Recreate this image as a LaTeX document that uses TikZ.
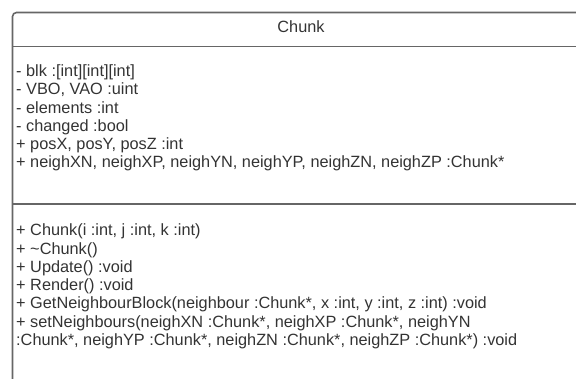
\documentclass[tikz,border=0pt]{standalone}
\usepackage{fontspec}
\setmainfont{Liberation Sans}
\usetikzlibrary{calc}

\definecolor{umlline}{HTML}{666666}
\definecolor{umltext}{HTML}{333333}

\begin{document}
\begin{tikzpicture}[
  x=1pt, y=-1pt,
  font=\fontsize{16.3}{18.3}\selectfont,
  frame/.style={draw=umlline, line width=1.6pt},
  member/.style={anchor=base west, align=left, inner sep=0pt, text=umltext},
  title/.style={anchor=base, inner sep=0pt, text=umltext}]

  \useasboundingbox (0,0) rectangle (576,379);
  \clip (0,0) rectangle (576,379);

  % Outer box of the class
  \draw[frame, rounded corners=4pt] (12.5,400) |- (592,12.5) -- (592,400);
  \draw[frame] (12.5,46.5) -- (592,46.5);
  \draw[frame] (12.5,204) -- (592,204);

  \node[title] (name) at (301,32.3) {Chunk};

  % Attributes (placed by the baseline of the last line)
  \node[member] (attrs) at (16,168) {%
    - blk :[int][int][int]\\
    - VBO, VAO :uint\\
    - elements :int\\
    - changed :bool\\
    + posX, posY, posZ :int\\
    + neighXN, neighXP, neighYN, neighYP, neighZN, neighZP :Chunk*};

  % Operations
  \node[member] (ops) at (16,345.5) {%
    + Chunk(i :int, j :int, k :int)\\
    + \textasciitilde Chunk()\\
    + Update() :void\\
    + Render() :void\\
    + GetNeighbourBlock(neighbour :Chunk*, x :int, y :int, z :int) :void\\
    + setNeighbours(neighXN :Chunk*, neighXP :Chunk*, neighYN\\
    :Chunk*, neighYP :Chunk*, neighZN :Chunk*, neighZP :Chunk*) :void};

\end{tikzpicture}
\end{document}
